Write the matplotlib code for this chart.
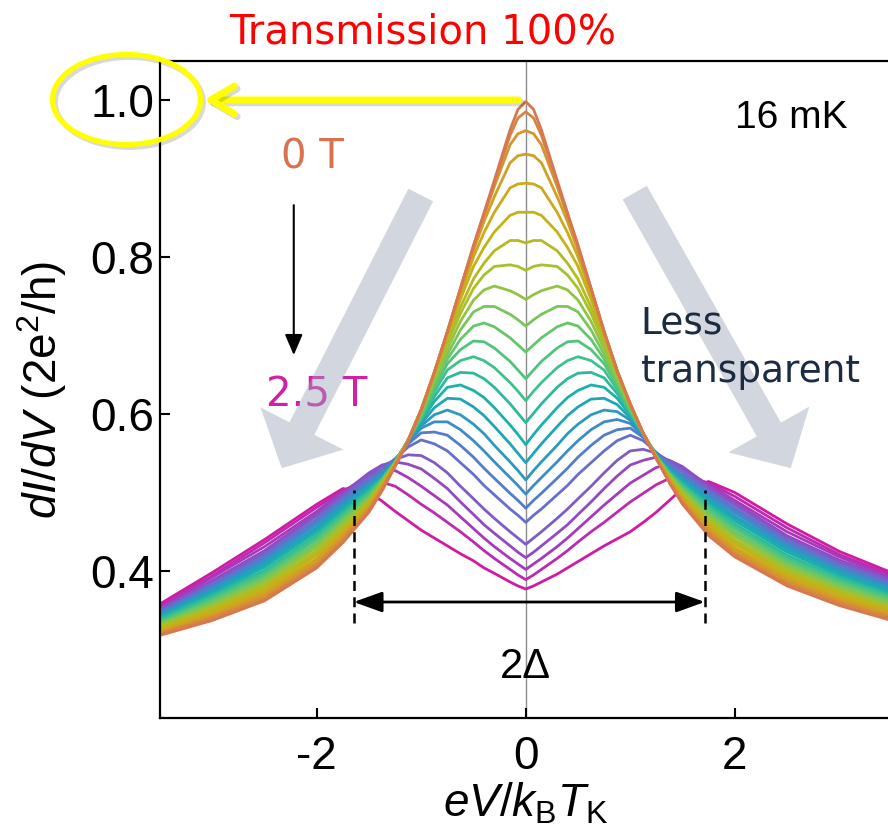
import numpy as np
import matplotlib
matplotlib.use("Agg")
import matplotlib.pyplot as plt
from matplotlib.colors import LinearSegmentedColormap
from matplotlib.patches import Ellipse, FancyArrowPatch, ArrowStyle
import matplotlib.patheffects as pe

# === DATA: differential conductance vs normalized bias, 0 T -> 2.5 T ===
x_bias = [-3.5, -3.0, -2.5, -2.0, -1.75, -1.5, -1.375, -1.25, -1.125, -1.0, -0.875, -0.75,
          -0.625, -0.5, -0.4, -0.3, -0.15, -0.075, 0.0, 0.075, 0.15, 0.3, 0.4, 0.5, 0.625,
          0.75, 0.875, 1.0, 1.125, 1.25, 1.375, 1.5, 1.75, 2.0, 2.5, 3.0, 3.5]

dIdV = [
    [0.318, 0.337, 0.362, 0.404, 0.436, 0.475, 0.502, 0.533, 0.565, 0.605, 0.653, 0.705, 0.760, 0.815, 0.856, 0.898, 0.962, 0.988,
     0.998,
     0.988, 0.962, 0.898, 0.856, 0.815, 0.760, 0.705, 0.655, 0.612, 0.575, 0.543, 0.512, 0.485, 0.445, 0.418, 0.381, 0.356, 0.337],
    [0.320, 0.340, 0.365, 0.407, 0.439, 0.477, 0.504, 0.534, 0.566, 0.605, 0.653, 0.705, 0.760, 0.814, 0.855, 0.895, 0.955, 0.977,
     0.985,
     0.977, 0.955, 0.895, 0.855, 0.814, 0.760, 0.705, 0.655, 0.612, 0.575, 0.543, 0.513, 0.487, 0.448, 0.421, 0.384, 0.359, 0.340],
    [0.321, 0.342, 0.368, 0.410, 0.442, 0.479, 0.505, 0.534, 0.566, 0.606, 0.653, 0.705, 0.759, 0.812, 0.852, 0.890, 0.943, 0.957,
     0.961,
     0.957, 0.943, 0.890, 0.852, 0.812, 0.759, 0.705, 0.655, 0.613, 0.575, 0.543, 0.514, 0.489, 0.451, 0.424, 0.387, 0.362, 0.342],
    [0.322, 0.344, 0.371, 0.413, 0.445, 0.481, 0.507, 0.535, 0.566, 0.606, 0.653, 0.704, 0.757, 0.808, 0.845, 0.877, 0.920, 0.929,
     0.931,
     0.929, 0.920, 0.877, 0.845, 0.808, 0.757, 0.704, 0.655, 0.613, 0.575, 0.544, 0.515, 0.491, 0.454, 0.427, 0.390, 0.364, 0.344],
    [0.324, 0.347, 0.374, 0.416, 0.448, 0.483, 0.508, 0.536, 0.567, 0.606, 0.652, 0.703, 0.753, 0.800, 0.831, 0.857, 0.888, 0.893,
     0.894,
     0.893, 0.888, 0.857, 0.831, 0.800, 0.753, 0.703, 0.654, 0.613, 0.575, 0.544, 0.517, 0.493, 0.457, 0.430, 0.393, 0.367, 0.347],
    [0.326, 0.349, 0.377, 0.420, 0.451, 0.485, 0.510, 0.537, 0.567, 0.606, 0.652, 0.700, 0.746, 0.788, 0.812, 0.832, 0.853, 0.857,
     0.857,
     0.857, 0.853, 0.832, 0.812, 0.788, 0.746, 0.700, 0.653, 0.613, 0.575, 0.544, 0.518, 0.495, 0.460, 0.434, 0.396, 0.370, 0.349],
    [0.328, 0.352, 0.380, 0.423, 0.454, 0.487, 0.511, 0.537, 0.567, 0.605, 0.650, 0.696, 0.736, 0.772, 0.792, 0.808, 0.821, 0.821,
     0.818,
     0.821, 0.821, 0.808, 0.792, 0.772, 0.736, 0.696, 0.651, 0.612, 0.575, 0.545, 0.519, 0.497, 0.463, 0.437, 0.399, 0.373, 0.352],
    [0.329, 0.354, 0.383, 0.426, 0.457, 0.489, 0.512, 0.537, 0.567, 0.604, 0.647, 0.690, 0.728, 0.760, 0.777, 0.788, 0.790, 0.788,
     0.783,
     0.788, 0.790, 0.788, 0.777, 0.760, 0.728, 0.690, 0.649, 0.611, 0.575, 0.545, 0.520, 0.499, 0.466, 0.440, 0.402, 0.375, 0.354],
    [0.331, 0.356, 0.386, 0.430, 0.460, 0.491, 0.513, 0.537, 0.567, 0.603, 0.644, 0.683, 0.718, 0.745, 0.758, 0.763, 0.757, 0.752,
     0.746,
     0.752, 0.757, 0.763, 0.758, 0.745, 0.718, 0.683, 0.646, 0.610, 0.575, 0.545, 0.521, 0.501, 0.469, 0.444, 0.405, 0.378, 0.357],
    [0.332, 0.359, 0.389, 0.433, 0.463, 0.493, 0.514, 0.537, 0.567, 0.601, 0.641, 0.676, 0.707, 0.730, 0.737, 0.737, 0.727, 0.720,
     0.712,
     0.720, 0.727, 0.737, 0.737, 0.730, 0.707, 0.676, 0.643, 0.608, 0.575, 0.545, 0.522, 0.503, 0.472, 0.447, 0.408, 0.381, 0.359],
    [0.334, 0.362, 0.392, 0.436, 0.466, 0.495, 0.515, 0.538, 0.567, 0.599, 0.637, 0.670, 0.695, 0.712, 0.716, 0.711, 0.697, 0.688,
     0.679,
     0.688, 0.697, 0.711, 0.716, 0.712, 0.695, 0.670, 0.640, 0.606, 0.575, 0.546, 0.523, 0.505, 0.475, 0.450, 0.411, 0.384, 0.362],
    [0.335, 0.363, 0.395, 0.440, 0.469, 0.497, 0.516, 0.538, 0.567, 0.597, 0.633, 0.664, 0.682, 0.693, 0.692, 0.684, 0.667, 0.656,
     0.645,
     0.656, 0.667, 0.684, 0.692, 0.693, 0.682, 0.664, 0.636, 0.604, 0.575, 0.546, 0.524, 0.507, 0.478, 0.454, 0.414, 0.386, 0.364],
    [0.337, 0.366, 0.398, 0.443, 0.472, 0.500, 0.517, 0.538, 0.567, 0.595, 0.628, 0.656, 0.668, 0.673, 0.668, 0.659, 0.640, 0.629,
     0.617,
     0.629, 0.640, 0.659, 0.668, 0.673, 0.668, 0.656, 0.631, 0.602, 0.575, 0.546, 0.525, 0.509, 0.481, 0.457, 0.417, 0.389, 0.367],
    [0.339, 0.369, 0.401, 0.446, 0.475, 0.502, 0.518, 0.539, 0.567, 0.593, 0.622, 0.646, 0.653, 0.652, 0.645, 0.634, 0.613, 0.601,
     0.589,
     0.601, 0.613, 0.634, 0.645, 0.652, 0.653, 0.646, 0.626, 0.600, 0.575, 0.547, 0.526, 0.511, 0.484, 0.460, 0.420, 0.392, 0.369],
    [0.341, 0.371, 0.405, 0.450, 0.478, 0.505, 0.519, 0.539, 0.567, 0.591, 0.616, 0.634, 0.637, 0.630, 0.621, 0.608, 0.586, 0.574,
     0.561,
     0.574, 0.586, 0.608, 0.621, 0.630, 0.637, 0.634, 0.620, 0.598, 0.575, 0.547, 0.527, 0.513, 0.487, 0.464, 0.424, 0.395, 0.372],
    [0.342, 0.373, 0.408, 0.453, 0.481, 0.507, 0.520, 0.539, 0.566, 0.588, 0.608, 0.620, 0.619, 0.609, 0.598, 0.584, 0.562, 0.550,
     0.538,
     0.550, 0.562, 0.584, 0.598, 0.609, 0.619, 0.620, 0.612, 0.595, 0.574, 0.547, 0.528, 0.515, 0.490, 0.467, 0.427, 0.397, 0.374],
    [0.344, 0.376, 0.411, 0.456, 0.484, 0.509, 0.522, 0.540, 0.565, 0.585, 0.599, 0.605, 0.599, 0.587, 0.575, 0.560, 0.539, 0.528,
     0.516,
     0.528, 0.539, 0.560, 0.575, 0.587, 0.599, 0.605, 0.603, 0.592, 0.573, 0.548, 0.530, 0.517, 0.493, 0.470, 0.430, 0.400, 0.377],
    [0.345, 0.378, 0.414, 0.460, 0.487, 0.511, 0.524, 0.541, 0.564, 0.582, 0.590, 0.590, 0.580, 0.566, 0.553, 0.539, 0.519, 0.509,
     0.498,
     0.509, 0.519, 0.539, 0.553, 0.566, 0.580, 0.590, 0.593, 0.588, 0.572, 0.549, 0.532, 0.519, 0.496, 0.474, 0.433, 0.403, 0.379],
    [0.347, 0.380, 0.417, 0.463, 0.490, 0.514, 0.526, 0.542, 0.562, 0.576, 0.577, 0.573, 0.560, 0.545, 0.531, 0.518, 0.499, 0.490,
     0.480,
     0.490, 0.499, 0.518, 0.531, 0.545, 0.560, 0.573, 0.580, 0.582, 0.570, 0.550, 0.534, 0.522, 0.499, 0.477, 0.436, 0.405, 0.382],
    [0.348, 0.383, 0.420, 0.466, 0.493, 0.518, 0.529, 0.543, 0.558, 0.567, 0.562, 0.553, 0.538, 0.523, 0.509, 0.497, 0.479, 0.471,
     0.462,
     0.471, 0.479, 0.497, 0.509, 0.523, 0.538, 0.553, 0.566, 0.573, 0.566, 0.551, 0.537, 0.526, 0.502, 0.480, 0.439, 0.408, 0.384],
    [0.350, 0.385, 0.423, 0.470, 0.496, 0.522, 0.533, 0.542, 0.548, 0.547, 0.538, 0.525, 0.508, 0.492, 0.479, 0.467, 0.450, 0.442,
     0.434,
     0.442, 0.450, 0.467, 0.479, 0.492, 0.508, 0.525, 0.541, 0.553, 0.555, 0.550, 0.540, 0.530, 0.505, 0.484, 0.442, 0.411, 0.387],
    [0.352, 0.388, 0.426, 0.473, 0.499, 0.525, 0.535, 0.539, 0.536, 0.530, 0.518, 0.505, 0.488, 0.472, 0.459, 0.448, 0.432, 0.424,
     0.417,
     0.424, 0.432, 0.448, 0.459, 0.472, 0.488, 0.505, 0.521, 0.535, 0.541, 0.545, 0.541, 0.533, 0.508, 0.487, 0.445, 0.414, 0.390],
    [0.353, 0.392, 0.431, 0.476, 0.501, 0.522, 0.528, 0.528, 0.519, 0.508, 0.496, 0.484, 0.469, 0.454, 0.442, 0.431, 0.416, 0.409,
     0.402,
     0.409, 0.416, 0.431, 0.442, 0.454, 0.469, 0.484, 0.498, 0.512, 0.522, 0.532, 0.535, 0.530, 0.510, 0.490, 0.450, 0.418, 0.392],
    [0.356, 0.394, 0.436, 0.481, 0.503, 0.514, 0.513, 0.508, 0.497, 0.485, 0.474, 0.462, 0.450, 0.437, 0.426, 0.416, 0.402, 0.395,
     0.389,
     0.395, 0.402, 0.416, 0.426, 0.437, 0.450, 0.462, 0.475, 0.488, 0.499, 0.510, 0.518, 0.522, 0.512, 0.495, 0.455, 0.421, 0.395],
    [0.358, 0.398, 0.440, 0.485, 0.505, 0.500, 0.489, 0.476, 0.464, 0.452, 0.442, 0.432, 0.422, 0.413, 0.404, 0.397, 0.386, 0.381,
     0.377,
     0.381, 0.386, 0.396, 0.404, 0.412, 0.422, 0.432, 0.441, 0.450, 0.462, 0.475, 0.490, 0.505, 0.514, 0.500, 0.460, 0.425, 0.398],
]

field_colors = ['#d8774f', '#d49a2a', '#c6b214', '#a5c22e', '#6cc866', '#3ec28c',
                '#16adb2', '#3690c8', '#6a6ccc', '#a040c0', '#d01aa4']

yticks = [0.4, 0.6, 0.8, 1.0]
ytick_labels = ['0.4', '0.6', '0.8', '1.0']
xticks = [-2, 0, 2]
xtick_labels = ['-2', '0', '2']

gap_edges = [-1.646, 1.713]

# === STYLE ===
plt.rcParams['font.family'] = 'Liberation Sans'
plt.rcParams['mathtext.fontset'] = 'custom'
plt.rcParams['mathtext.rm'] = 'Liberation Sans'
plt.rcParams['mathtext.it'] = 'Liberation Sans:italic'

fig = plt.figure(figsize=(8.88, 8.30), dpi=100)
ax = fig.add_axes([160 / 888, 1 - 718 / 830, 731.5 / 888, 657 / 830])

cmap = LinearSegmentedColormap.from_list('field', field_colors)
n_curves = len(dIdV)
colors = [cmap(i / (n_curves - 1)) for i in range(n_curves)]

# zero-bias guide
ax.axvline(0, color='#8c8c8c', lw=1.0, zorder=1)

# === CURVES (highest field first so 0 T ends on top) ===
for i in reversed(range(n_curves)):
    ax.plot(x_bias, dIdV[i], color=colors[i], lw=2.0, solid_joinstyle='round', zorder=2)

ax.set_xlim(-3.5, 3.5)
ax.set_ylim(1.0 - 618 / 785, 1.0 + 39 / 785)
ax.set_xticks(xticks)
ax.set_xticklabels(xtick_labels)
ax.set_yticks(yticks)
ax.set_yticklabels(ytick_labels)
ax.tick_params(direction='in', length=7, width=1.5, labelsize=33)
ax.tick_params(axis='x', pad=12)
ax.tick_params(axis='y', pad=4)
for side in ['left', 'top', 'bottom']:
    ax.spines[side].set_linewidth(1.6)
ax.spines['right'].set_visible(False)

ax.set_ylabel(r'$dI/dV$ (2e$^2$/h)', fontsize=33)
ax.yaxis.set_label_coords(-0.125, 0.5)
ax.set_xlabel(r'$eV/k_\mathrm{B}T_\mathrm{K}$', fontsize=33)
ax.xaxis.set_label_coords(0.5, -0.096)

# === ANNOTATIONS ===
shadow = [pe.SimpleLineShadow(offset=(2, -2), shadow_color='k', alpha=0.15), pe.Normal()]

fig.text(423 / 888, 1 - 43 / 830, 'Transmission 100%', color='#ff0000', fontsize=29,
         ha='center', va='baseline', family='DejaVu Sans')

arr = ax.annotate('', xy=(-3.08, 1.0), xytext=(-0.067, 1.0),
                  arrowprops=dict(arrowstyle='->,head_length=0.85,head_width=0.5', color='#ffff00',
                                  lw=5.0, mutation_scale=20, shrinkA=0, shrinkB=0), zorder=6)
arr.arrow_patch.set_path_effects(shadow)

ring = Ellipse((126.5 / 888, 1 - 99.5 / 830), 148 / 888, 90 / 830, transform=fig.transFigure,
               fill=False, edgecolor='#ffff00', lw=3.8, zorder=6)
ring.set_path_effects(shadow)
fig.add_artist(ring)

ax.text(2.0, 0.964, '16 mK', fontsize=28, ha='left', va='baseline')

ax.text(-2.34, 0.913, '0 T', color='#d9734f', fontsize=29, family='DejaVu Sans', va='baseline', zorder=3)
ax.annotate('', xy=(-2.22, 0.675), xytext=(-2.22, 0.866),
            arrowprops=dict(arrowstyle='-|>,head_length=0.7,head_width=0.3', color='k', lw=1.5,
                            mutation_scale=18, shrinkA=0, shrinkB=0))
ax.text(-2.49, 0.609, '2.5 T', color='#d21fa5', fontsize=29, family='DejaVu Sans', va='baseline', zorder=3)

big_head = ArrowStyle.Simple(head_length=0.32, head_width=0.67, tail_width=0.2)
for start, end in [((-1.005, 0.879), (-2.335, 0.531)), ((1.043, 0.882), (2.536, 0.531))]:
    ax.add_patch(FancyArrowPatch(start, end, arrowstyle=big_head, mutation_scale=100,
                                 color='#9da8b8', alpha=0.45, lw=0, shrinkA=0, shrinkB=0, zorder=4))

ax.text(1.10, 0.703, 'Less', color='#1b2b42', fontsize=27, family='DejaVu Sans', va='baseline', zorder=5)
ax.text(1.10, 0.641, 'transparent', color='#1b2b42', fontsize=27, family='DejaVu Sans', va='baseline', zorder=5)

# gap width marker
for xe in gap_edges:
    ax.plot([xe, xe], [0.334, 0.503], color='k', lw=1.8, ls=(0, (4, 2.5)), zorder=3)
ax.annotate('', xy=(gap_edges[1], 0.3605), xytext=(gap_edges[0], 0.3605),
            arrowprops=dict(arrowstyle='<|-|>,head_length=0.5,head_width=0.18', color='k', lw=2.0,
                            mutation_scale=35, shrinkA=0, shrinkB=0), zorder=3)
ax.text(0.0, 0.2637, '2Δ', fontsize=30, ha='center', va='baseline')

fig.savefig('out.png', dpi=100)
